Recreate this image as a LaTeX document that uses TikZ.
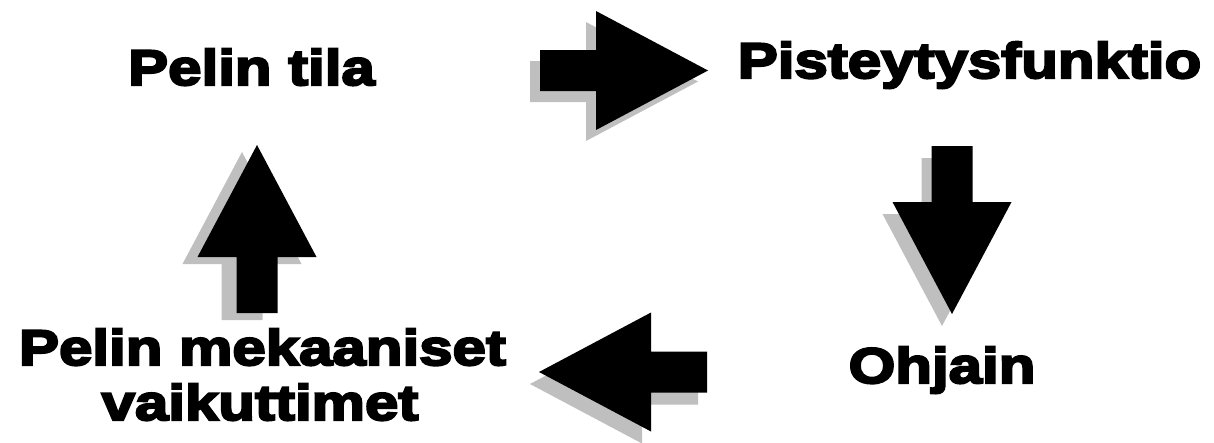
\documentclass[tikz,border=0pt]{standalone}
\usepackage{fontspec}
\newfontfamily\heavyfont[FakeBold=4.5,FakeStretch=1.2]{Liberation Sans Bold}
\tikzset{
  cyclelabel/.style={font=\heavyfont\fontsize{50}{55}\selectfont, inner sep=0pt, anchor=base},
  shadowfill/.style={fill=black!25},
  arrowfill/.style={fill=black},
  % block arrow pointing along local +x, tail centre at the origin
  pics/blockarrow/.style={code={
    \fill (0,-20.5) -- (56,-20.5) -- (56,-59.5) -- (168,0)
          -- (56,59.5) -- (56,20.5) -- (0,20.5) -- cycle;
  }},
}
\begin{document}
\begin{tikzpicture}[x=1pt, y=-1pt]
  \useasboundingbox (0,0) rectangle (1214,442);

  % stages of the loop
  \node[cyclelabel] (state)  at (251.5,85)  {Pelin tila};
  \node[cyclelabel] (score)  at (969.5,78)  {Pisteytysfunktio};
  \node[cyclelabel] (ctrl)   at (942,383)   {Ohjain};
  \node[cyclelabel] (mech1)  at (262.5,365) {Pelin mekaaniset};
  \node[cyclelabel] (mech2)  at (260,420)   {vaikuttimet};

  % arrow tails
  \coordinate (aR) at (540,70.5);
  \coordinate (aD) at (952,146);
  \coordinate (aL) at (707,372);
  \coordinate (aU) at (257,313);

  % drop shadows
  \pic[shadowfill] at ([shift={(-10,11)}]aR) {blockarrow};
  \pic[shadowfill, rotate=-90] at ([shift={(-10,12)}]aD) {blockarrow};
  \pic[shadowfill, rotate=180] at ([shift={(-9,12)}]aL) {blockarrow};
  \pic[shadowfill, rotate=90] at ([shift={(-15,7)}]aU) {blockarrow};

  % arrows
  \pic[arrowfill] at (aR) {blockarrow};
  \pic[arrowfill, rotate=-90] at (aD) {blockarrow};
  \pic[arrowfill, rotate=180] at (aL) {blockarrow};
  \pic[arrowfill, rotate=90] at (aU) {blockarrow};
\end{tikzpicture}
\end{document}
